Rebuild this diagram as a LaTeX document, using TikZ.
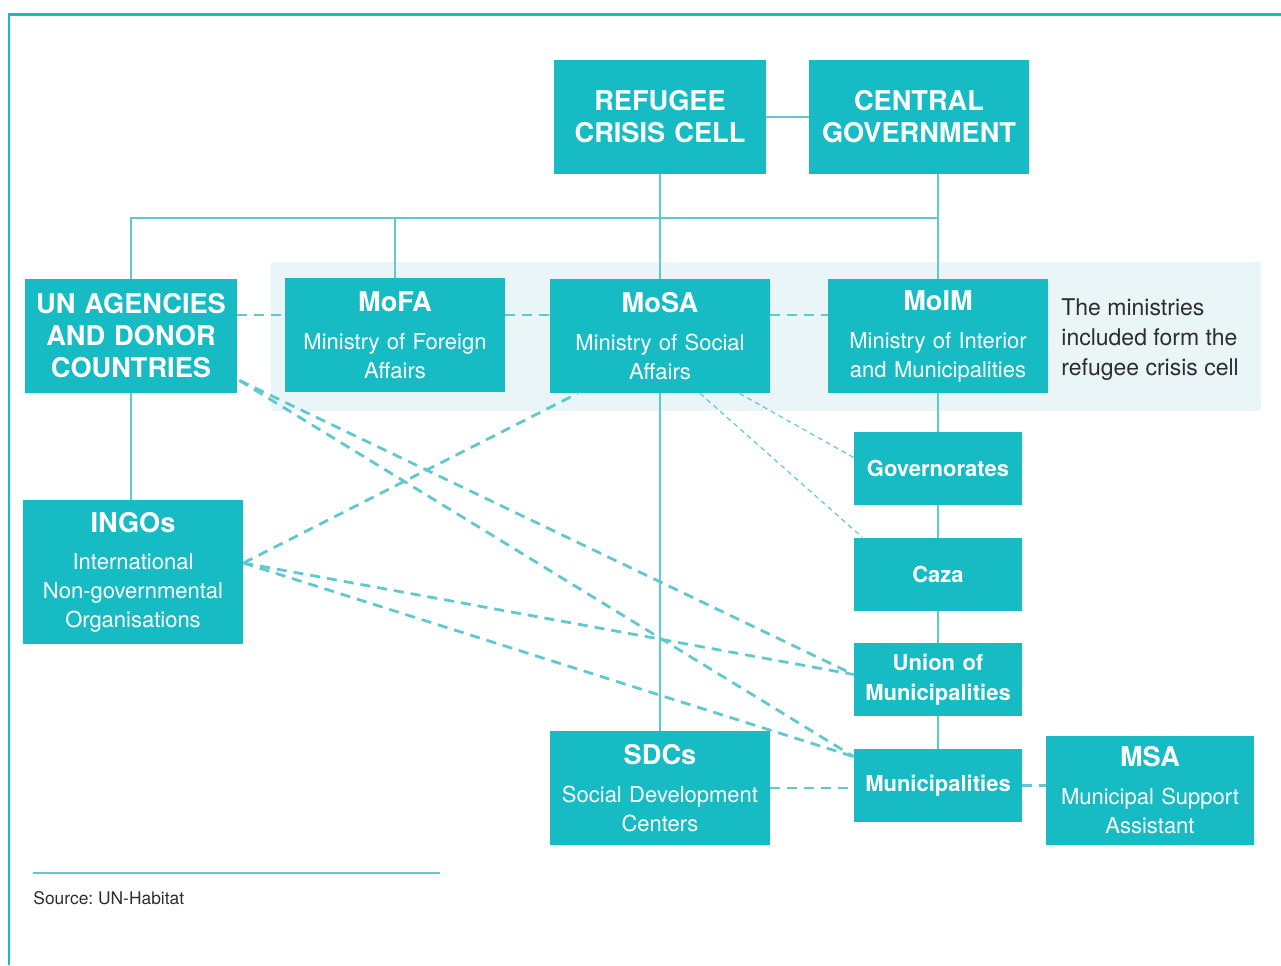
\documentclass[tikz,border=0pt]{standalone}
\usepackage{fontspec}
\setmainfont{TeX Gyre Heros}
\usetikzlibrary{positioning,calc}
\definecolor{cTeal}{RGB}{22,187,196}
\definecolor{cLine}{RGB}{96,200,206}
\definecolor{cPanel}{RGB}{233,245,246}
\definecolor{cInk}{RGB}{45,45,45}
\newcommand{\hd}[1]{{\fontsize{13.6}{16}\selectfont\bfseries #1}}
\frenchspacing

\begin{document}
\begin{tikzpicture}[x=0.5pt,y=-0.5pt,
   box/.style={fill=cTeal,text=white,align=center,inner sep=0pt,font=\fontsize{11}{14.5}\selectfont},
   headbox/.style={box,minimum width=106pt,minimum height=57pt,text width=106pt,font=\fontsize{13.6}{16}\selectfont\bfseries},
   minbox/.style={box,minimum width=110pt,minimum height=57pt,text width=110pt},
   lvlbox/.style={box,minimum width=84pt,minimum height=36.5pt,text width=84pt,font=\fontsize{11}{15}\selectfont\bfseries},
   link/.style={draw=cLine,line width=1.2pt},
   dlink/.style={draw=cLine,line width=1.4pt,dash pattern=on 5pt off 3.5pt},
   tlink/.style={draw=cLine,line width=0.6pt,dash pattern=on 2.5pt off 2pt}]
\useasboundingbox (0,0) rectangle (1281,965);
%% ---- frame and ministries band ----
\draw[cTeal,line width=1.4pt] (9,965) |- (1281,14.5);
\fill[cPanel] (271,262) rectangle (1261,411);
%% ---- top level ----
\node[headbox] (cell) at (660,117) {REFUGEE\\CRISIS CELL};
\node[headbox,minimum width=110pt,text width=110pt] (govt) at (919,117) {CENTRAL\\GOVERNMENT};
%% ---- ministries row ----
\node[headbox] (un) at (131,336) {UN AGENCIES\\AND DONOR\\COUNTRIES};
\node[minbox] (mofa) at (395,335) {\hd{MoFA}\\[4.5pt]Ministry of Foreign\\Affairs};
\node[minbox] (mosa) at (660,336) {\hd{MoSA}\\[4.5pt]Ministry of Social\\Affairs};
\node[minbox] (moim) at (938,336) {\hd{MoIM}\\[4.5pt]Ministry of Interior\\and Municipalities};
\node[anchor=west,align=left,inner sep=0pt,text=cInk,font=\fontsize{11.5}{15}\selectfont] (note) at (1061,340) {The ministries\\included form the\\refugee crisis cell};
%% ---- local levels ----
\node[lvlbox] (gov) at (938,468.5) {Governorates};
\node[lvlbox] (caza) at (938,574.5) {Caza};
\node[lvlbox] (union) at (938,679.5) {Union of\\Municipalities};
\node[lvlbox] (muni) at (938,785.5) {Municipalities};
%% ---- other actors ----
\node[minbox,minimum height=72pt] (ingo) at (133,572) {\hd{INGOs}\\[4pt]International\\Non-governmental\\Organisations};
\node[minbox] (sdc) at (660,788) {\hd{SDCs}\\[4.5pt]Social Development\\Centers};
\node[minbox,minimum width=104pt,text width=104pt,minimum height=54.5pt] (msa) at (1150,790.5) {\hd{MSA}\\[4.5pt]Municipal Support\\Assistant};
%% ---- source ----
\draw[cLine,line width=0.7pt] (33,873) -- (440,873);
\node[anchor=base west,inner sep=0pt,text=cInk,font=\fontsize{8.7}{10}\selectfont] (src) at (33,904) {Source: UN-Habitat};

%% ---- solid links ----
\coordinate (bus) at (938,218);
\draw[link] (cell.east) -- (govt.west);
\draw[link] (moim.north |- govt.south) -- (moim.north);
\draw[link] (un.north) |- (bus);
\draw[link] (mofa.north) -- (mofa.north |- bus);
\draw[link] (cell) -- (mosa);
\draw[link] (mosa) -- (sdc);
\draw[link] (un.south) -- (un.south |- ingo.north);
\draw[link] (moim) -- (gov) (gov) -- (caza) (caza) -- (union) (union) -- (muni);
%% ---- dashed links ----
\draw[dlink] ($(un.east)+(0,-21)$) -- ($(mofa.west)+(0,-20)$);
\draw[dlink] ($(mofa.east)+(0,-20)$) -- ($(mosa.west)+(0,-21)$);
\draw[dlink] ($(mosa.east)+(0,-21)$) -- ($(moim.west)+(0,-21)$);
\coordinate (unfoot) at ($(un.south east)+(2,-13)$);
\coordinate (ingoside) at ($(ingo.east)+(0,-9)$);
\coordinate (unionside) at ($(union.west)+(0,-5)$);
\coordinate (munside) at ($(muni.north west)+(0,8)$);
\draw[dlink] (unfoot) -- (unionside);
\draw[dlink] (unfoot) -- (munside);
\draw[dlink] (ingoside) -- ($(mosa.south west)+(28,0)$);
\draw[dlink] (ingoside) -- (unionside);
\draw[dlink] (ingoside) -- (munside);
\draw[tlink] ($(mosa.south east)+(-31,0)$) -- ($(gov.west)+(0,-11)$);
\draw[tlink] ($(mosa.south)+(40,0)$) -- ($(caza.north west)+(9,0)$);
\draw[dlink] (sdc.east) -- (sdc.east -| muni.west);
\draw[dlink] (muni.east) -- (muni.east -| msa.west);
\end{tikzpicture}
\end{document}
